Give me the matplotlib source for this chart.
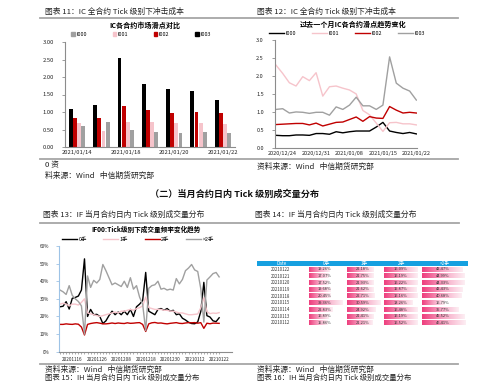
import matplotlib
matplotlib.use('Agg')
import matplotlib.pyplot as plt
import numpy as np
from matplotlib.patches import Rectangle, Patch
from matplotlib.lines import Line2D
from matplotlib.ticker import FuncFormatter, FixedLocator
from matplotlib.colors import LinearSegmentedColormap

plt.rcParams['font.family'] = ['Noto Sans CJK SC', 'DejaVu Sans']

# ---------------- data ----------------
# Chart 11: IC contracts slippage by day (bars)
bar_dates = ['2021/01/14', '2021/01/15', '2021/01/18', '2021/01/19',
             '2021/01/20', '2021/01/21', '2021/01/22']
bar_I000 = [0.59, 0.72, 0.48, 0.44, 0.41, 0.44, 0.40]
bar_I001 = [0.70, 0.47, 0.71, 0.72, 0.68, 0.68, 0.65]
bar_I002 = [0.84, 0.83, 1.16, 1.06, 0.98, 1.00, 0.98]
bar_I003 = [1.08, 1.20, 2.54, 1.81, 1.67, 1.59, 1.34]
bar_tick_idx = [0, 2, 4, 6]

# Chart 12: past month slippage trend (lines)
line_dates = ['2020/12/23', '2020/12/24', '2020/12/25', '2020/12/28', '2020/12/29',
              '2020/12/30', '2020/12/31', '2021/01/04', '2021/01/05', '2021/01/06',
              '2021/01/07', '2021/01/08', '2021/01/11', '2021/01/12', '2021/01/13',
              '2021/01/14', '2021/01/15', '2021/01/18', '2021/01/19', '2021/01/20',
              '2021/01/21', '2021/01/22']
line_I000 = [0.36, 0.35, 0.35, 0.37, 0.37, 0.36, 0.41, 0.41, 0.39, 0.46, 0.43,
             0.46, 0.48, 0.48, 0.48, 0.59, 0.72, 0.48, 0.44, 0.41, 0.44, 0.40]
line_I001 = [2.31, 2.08, 1.82, 1.73, 1.99, 1.88, 2.10, 1.45, 1.71, 1.73, 1.67,
             1.62, 1.51, 1.05, 0.93, 0.70, 0.47, 0.71, 0.72, 0.68, 0.68, 0.65]
line_I002 = [0.66, 0.67, 0.68, 0.69, 0.69, 0.65, 0.70, 0.62, 0.67, 0.72, 0.73,
             0.80, 0.87, 0.75, 0.88, 0.84, 0.83, 1.16, 1.06, 0.98, 1.00, 0.98]
line_I003 = [1.08, 1.10, 0.98, 1.01, 1.00, 0.97, 1.00, 1.00, 0.92, 1.15, 1.08,
             1.20, 1.42, 1.18, 1.18, 1.08, 1.20, 2.54, 1.81, 1.67, 1.59, 1.34]
line_tick_idx = [1, 6, 11, 16, 21]

# Chart 13: IF00 tick volume frequency (%)
vol_dates = ['20201110', '20201111', '20201112', '20201113', '20201116', '20201117',
             '20201118', '20201119', '20201120', '20201123', '20201124', '20201125',
             '20201126', '20201127', '20201130', '20201201', '20201202', '20201203',
             '20201204', '20201207', '20201208', '20201209', '20201210', '20201211',
             '20201214', '20201215', '20201216', '20201217', '20201218', '20201221',
             '20201222', '20201223', '20201224', '20201225', '20201228', '20201229',
             '20201230', '20201231', '20210104', '20210105', '20210106', '20210107',
             '20210108', '20210111', '20210112', '20210113', '20210114', '20210115',
             '20210118', '20210119', '20210120', '20210121', '20210122']
vol_0 = [25.5, 25.8, 28.4, 24.2, 30.3, 30.8, 31.6, 35.0, 52.7, 20.0, 24.0, 21.0,
         21.2, 20.0, 16.0, 17.5, 20.5, 23.0, 21.0, 22.5, 21.0, 23.0, 21.0, 24.0,
         20.0, 25.5, 27.0, 29.0, 45.0, 23.0, 22.0, 21.0, 24.0, 24.5, 23.5, 24.5,
         23.0, 23.5, 21.0, 21.5, 19.0, 18.0, 16.7, 16.0, 15.86, 16.89, 22.83, 39.36,
         20.45, 19.68, 17.52, 17.07, 19.26]
vol_1 = [27.0, 27.5, 27.0, 26.0, 27.0, 27.0, 26.5, 28.0, 30.0, 22.0, 21.5, 21.0,
         20.5, 20.0, 20.5, 21.0, 21.5, 22.0, 22.5, 22.0, 23.0, 23.0, 23.5, 24.0,
         23.5, 24.5, 25.0, 26.0, 31.0, 25.0, 24.5, 24.0, 24.0, 24.0, 23.5, 23.5,
         23.0, 23.0, 22.5, 22.0, 22.0, 21.5, 21.0, 21.0, 21.21, 21.41, 24.92, 30.59,
         22.71, 21.62, 21.93, 21.75, 22.18]
vol_2 = [15.5, 15.5, 15.8, 15.6, 15.5, 15.8, 15.6, 14.0, 9.5, 15.5, 16.0, 16.3,
         16.5, 16.2, 15.8, 15.8, 16.0, 16.3, 16.0, 16.3, 16.1, 16.0, 16.4, 16.1,
         16.2, 16.4, 16.5, 15.5, 11.5, 15.8, 16.4, 16.6, 16.2, 16.3, 16.0, 15.8,
         16.1, 16.3, 16.5, 16.1, 16.0, 16.3, 16.5, 16.4, 16.52, 16.19, 16.48, 13.26,
         16.16, 15.87, 16.22, 16.19, 16.09]
vol_3 = [35.0, 34.0, 32.5, 37.5, 32.0, 30.0, 28.5, 26.0, 10.0, 43.0, 36.5, 40.5,
         39.0, 41.0, 49.5, 46.0, 42.0, 38.0, 39.0, 38.0, 37.0, 40.0, 36.5, 42.0,
         35.5, 37.5, 31.0, 27.0, 12.0, 36.0, 37.5, 38.0, 40.0, 35.5, 36.0, 35.0,
         35.5, 35.0, 41.5, 38.5, 41.0, 46.0, 47.5, 49.5, 46.41, 45.52, 35.77, 16.79,
         40.68, 42.43, 44.33, 44.99, 42.47]
vol_tick_idx = [4, 12, 20, 28, 36, 44, 52]

# Chart 14: table
tab_dates = ['20210122', '20210121', '20210120', '20210119', '20210118',
             '20210115', '20210114', '20210113', '20210112']
tab_0 = [19.26, 17.07, 17.52, 19.68, 20.45, 39.36, 22.83, 16.89, 15.86]
tab_1 = [22.18, 21.75, 21.93, 21.62, 22.71, 30.59, 24.92, 21.41, 21.21]
tab_2 = [16.09, 16.19, 16.22, 15.87, 16.16, 13.26, 16.48, 16.19, 16.52]
tab_3 = [42.47, 44.99, 44.33, 42.43, 40.68, 16.79, 35.77, 45.52, 46.41]
tab_cols = ['Date', '0手', '1手', '2手', '>2手']

# ---------------- figure helpers ----------------
W, H = 499, 382
fig = plt.figure(figsize=(W / 100, H / 100), dpi=100)
fig.patch.set_facecolor('white')


def add_ax(x0, y0, x1, y1):
    return fig.add_axes([x0 / W, 1 - y1 / H, (x1 - x0) / W, (y1 - y0) / H])


def ftext(x, y, s, **kw):
    kw.setdefault('va', 'center')
    fig.text(x / W, 1 - y / H, s, **kw)


def hline(y, x0, x1, color='#a6a6a6', lw=1.3):
    fig.add_artist(Line2D([x0 / W, x1 / W], [1 - y / H, 1 - y / H], color=color, lw=lw))


BLACK = '#000000'
RED = '#c00000'
PINK = '#f6c4cb'
GRAY = '#a0a0a0'
AXC = '#8c8c8c'

HDR = 5.6
SRC = 'Wind   中信期货研究部'

# ---------------- page text & rules ----------------
ftext(45, 12, '图表 11：IC 全合约 Tick 级别下冲击成本', fontsize=HDR, color='#222222')
ftext(257, 12, '图表 12：IC 全合约 Tick 级别下冲击成本', fontsize=HDR, color='#222222')
hline(17.5, 40, 458)
hline(159.5, 40, 458)
ftext(45, 165, '0 资', fontsize=HDR, color='#222222')
ftext(45, 176, '料来源：' + SRC, fontsize=HDR, color='#222222')
ftext(257, 167, '资料来源：' + SRC, fontsize=HDR, color='#222222')
ftext(234, 194.5, '（二）当月合约日内 Tick 级别成交量分布', fontsize=6.6,
      fontweight='bold', ha='center', color='#111111')
ftext(43, 215, '图表 13：IF 当月合约日内 Tick 级别成交量分布', fontsize=HDR, color='#222222')
ftext(255, 215, '图表 14：IF 当月合约日内 Tick 级别成交量分布', fontsize=HDR, color='#222222')
hline(222.5, 40, 459)
hline(363.5, 40, 458)
ftext(45, 370, '资料来源：' + SRC, fontsize=HDR, color='#222222')
ftext(257, 369.5, '资料来源：' + SRC, fontsize=HDR, color='#222222')
ftext(45, 377.6, '图表 15：IH 当月合约日内 Tick 级别成交量分布', fontsize=5.3, color='#222222')
ftext(257, 377.6, '图表 16：IH 当月合约日内 Tick 级别成交量分布', fontsize=5.3, color='#222222')


def style_axes(ax, color=AXC, tsize=4.2):
    for s in ['top', 'right']:
        ax.spines[s].set_visible(False)
    for s in ['left', 'bottom']:
        ax.spines[s].set_color(color)
        ax.spines[s].set_linewidth(0.8)
    ax.tick_params(axis='both', labelsize=tsize, colors='#222222', width=0.6,
                   length=2, pad=1.5)
    ax.tick_params(axis='y', color=color)
    ax.tick_params(axis='x', length=0, pad=2)
    ax.set_facecolor('none')


# ---------------- Chart 11 ----------------
ax1 = add_ax(65, 42, 235, 147)
x = np.arange(len(bar_dates))
bw = 0.17
series11 = [('I003', bar_I003, BLACK), ('I002', bar_I002, RED),
            ('I001', bar_I001, PINK), ('I000', bar_I000, GRAY)]
for k, (name, vals, col) in enumerate(series11):
    ax1.bar(x + (k - 1.5) * bw, vals, width=bw * 0.92, color=col, label=name)
ax1.set_xlim(-0.5, len(bar_dates) - 0.5)
ax1.set_ylim(0, 3)
ax1.set_yticks(np.arange(0, 3.01, 0.5))
ax1.yaxis.set_major_formatter(FuncFormatter(lambda v, p: f'{v:.2f}'))
ax1.set_xticks([x[i] for i in bar_tick_idx])
ax1.set_xticklabels([bar_dates[i] for i in bar_tick_idx])
style_axes(ax1)
ax1.tick_params(axis='y', pad=6)
ftext(145, 25.5, 'IC各合约市场滑点对比', fontsize=5.1, fontweight='bold', ha='center')
h11 = [Patch(color=c) for c in [GRAY, PINK, RED, BLACK]]
ax1.legend(h11, ['I000', 'I001', 'I002', 'I003'], ncol=4, loc='center',
           bbox_to_anchor=(141 / W, 1 - 34.5 / H), bbox_transform=fig.transFigure,
           frameon=False, fontsize=3.9, handlelength=0.6, handleheight=0.6,
           handletextpad=0.3, columnspacing=4.8, borderpad=0)

# ---------------- Chart 12 ----------------
ax2 = add_ax(275, 40.3, 417, 148.3)
xi = np.arange(len(line_dates))
for name, vals, col in [('I000', line_I000, BLACK), ('I001', line_I001, PINK),
                        ('I002', line_I002, RED), ('I003', line_I003, GRAY)]:
    ax2.plot(xi, vals, color=col, lw=1.0, label=name)
ax2.set_xlim(-0.15, len(line_dates) - 0.9)
ax2.set_ylim(0, 3)
ax2.set_yticks(np.arange(0, 3.01, 0.5))
ax2.yaxis.set_major_formatter(FuncFormatter(lambda v, p: f'{v:.1f}'))
ax2.set_xticks(line_tick_idx)
ax2.set_xticklabels([line_dates[i] for i in line_tick_idx])
style_axes(ax2, tsize=4.0)
ax2.tick_params(axis='y', pad=6)
ftext(353, 24.5, '过去一个月IC各合约滑点趋势变化', fontsize=5.1, fontweight='bold', ha='center')
ax2.legend(ncol=4, loc='center', bbox_to_anchor=(347 / W, 1 - 33.8 / H),
           bbox_transform=fig.transFigure, frameon=False, fontsize=3.9,
           handlelength=2.7, handletextpad=0.3, columnspacing=3.0, borderpad=0)

# ---------------- Chart 13 ----------------
ax3 = add_ax(59, 246, 232, 351.7)
xv = np.arange(len(vol_dates))
for name, vals, col in [('0手', vol_0, BLACK), ('1手', vol_1, PINK),
                        ('2手', vol_2, RED), ('>2手', vol_3, GRAY)]:
    ax3.plot(xv, vals, color=col, lw=1.0, label=name)
ax3.set_xlim(-0.33, 56.2)
ax3.set_ylim(0, 60)
ax3.set_yticks(np.arange(0, 60.1, 10))
ax3.yaxis.set_major_formatter(FuncFormatter(lambda v, p: f'{v:.0f}%'))
ax3.set_xticks(vol_tick_idx)
ax3.set_xticklabels([vol_dates[i] for i in vol_tick_idx])
ax3.xaxis.set_minor_locator(FixedLocator(xv))
style_axes(ax3, tsize=3.3)
ax3.spines['left'].set_color('#9dc3e6')
ax3.tick_params(axis='y', pad=5, color='#9dc3e6')
ax3.tick_params(axis='x', which='minor', length=1.5, width=0.5, color=AXC)
ax3.tick_params(axis='x', which='major', length=1.5, width=0.5, color=AXC, pad=2.5)
ftext(146, 229.5, 'IF00:Tick级别下成交量频率变化趋势', fontsize=4.8, fontweight='bold', ha='center')
ax3.legend(ncol=4, loc='center', bbox_to_anchor=(138 / W, 1 - 239.5 / H),
           bbox_transform=fig.transFigure, frameon=False, fontsize=3.9,
           handlelength=2.7, handletextpad=0.3, columnspacing=3.1, borderpad=0)

# ---------------- Chart 14 (table) ----------------
ax4 = add_ax(250, 225, 499, 362)
ax4.set_xlim(250, 499)
ax4.set_ylim(362, 225)
ax4.axis('off')
hdr_top, hdr_h = 260.6, 5.4
row_h = 6.7
col_left = [256.7, 307.5, 345.2, 382.8, 420.5]
col_w = [50.8, 37.7, 37.6, 37.7, 47.8]
ax4.add_patch(Rectangle((col_left[0], hdr_top), sum(col_w), hdr_h,
                        facecolor='#16a0e0', edgecolor='none'))
for j, name in enumerate(tab_cols):
    ax4.text(col_left[j] + col_w[j] / 2, hdr_top + hdr_h / 2, name,
             fontsize=3.4, color='white', ha='center', va='center')
cmap = LinearSegmentedColormap.from_list('pk', ['#ee3f7e', '#f7a6c4', '#fdeef3'])
grad = np.linspace(0, 1, 64).reshape(1, -1)
cols_vals = [tab_0, tab_1, tab_2, tab_3]
for r, d in enumerate(tab_dates):
    yc = hdr_top + hdr_h + row_h * (r + 0.5)
    ax4.text(col_left[0] + col_w[0] / 2 - 2, yc, d, fontsize=3.1, color='#333333',
             ha='center', va='center')
    for j, vals in enumerate(cols_vals):
        v = vals[r]
        vmax = max(vals)
        x0 = col_left[j + 1] + 1.5
        L = (col_w[j + 1] - 3) * (0.25 + 0.72 * v / vmax)
        ax4.imshow(grad, extent=[x0, x0 + L, yc + 2.3, yc - 2.3], cmap=cmap,
                   aspect='auto', interpolation='bilinear', zorder=1)
        ax4.text(col_left[j + 1] + col_w[j + 1] / 2 - 1.5, yc, f'{v:.2f}%', fontsize=2.9,
                 color='#333333', ha='center', va='center', zorder=3)
ax4.set_xlim(250, 499)
ax4.set_ylim(362, 225)

fig.savefig('out.png', dpi=100, facecolor='white')
